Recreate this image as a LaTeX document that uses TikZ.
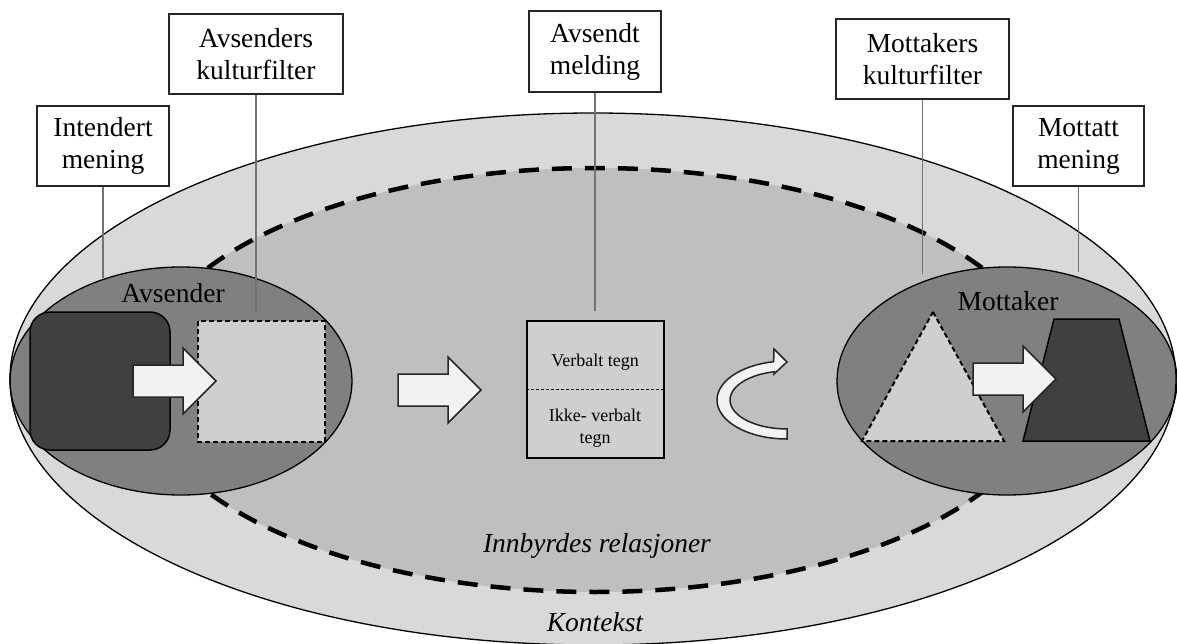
\documentclass[tikz,border=0pt]{standalone}
\usepackage{fontspec}
\setmainfont{Liberation Serif}

\begin{document}
\begin{tikzpicture}[x=1pt,y=-1pt]
	\tikzstyle{lbl} = [rectangle, draw=black!85, line width=1.4pt, fill=white, minimum height=80pt, inner sep=0pt, align=center, font=\fontsize{27.5}{32}\selectfont]
	\tikzstyle{lead} = [draw=black!55, line width=1.2pt]
	\tikzstyle{blk} = [draw=black, line width=1.5pt, fill=black!75]
	\tikzstyle{filt} = [draw=black, line width=2pt, dash pattern=on 5pt off 3pt, fill=black!19]
	\tikzstyle{harrow} = [draw=black!85, line width=1.5pt, fill=black!5, line join=miter]
	\tikzstyle{big} = [inner sep=0pt, font=\fontsize{27.5}{32}\selectfont]
	\tikzstyle{small} = [inner sep=0pt, align=center, font=\fontsize{18}{22}\selectfont]
	
	\useasboundingbox (0,0) rectangle (1177,644);
	
	% kontekst og relasjoner
	\fill [black!15] (593,379) ellipse [x radius=583, y radius=266];
	\draw [fill=black!25, line width=4.5pt, dash pattern=on 20pt off 13pt] (595,380) ellipse [x radius=456, y radius=212];
	
	\draw [fill=black!50, line width=1.3pt] (181,381) ellipse [x radius=171, y radius=114];
	\draw [fill=black!50, line width=1.3pt] (1007,381) ellipse [x radius=170, y radius=114];
	\draw [line width=1.3pt] (593,379) ellipse [x radius=583, y radius=266];
	
	% avsender
	\draw [blk, rounded corners=20pt] (30,312) rectangle (170,450);
	\draw [filt] (198,321) rectangle (325,442);
	\draw [harrow] (133,365) -- ++(50,0) -- ++(0,-17) -- ++(33,33) -- ++(-33,33) -- ++(0,-17) -- ++(-50,0) -- cycle;
	\node [big] (sender) at (173,293) {Avsender};
	
	% melding
	\draw [harrow] (398,374) -- ++(50,0) -- ++(0,-17) -- ++(33,33) -- ++(-33,33) -- ++(0,-17) -- ++(-50,0) -- cycle;
	\node [draw, line width=1.8pt, fill=black!19, minimum width=137pt, minimum height=137pt, inner sep=0pt] (msg) at (595.5,389.5) {};
	\draw [line width=0.8pt, dash pattern=on 3pt off 2pt] (msg.west) -- (msg.east);
	\node [small] (verbal) at (595,362) {Verbalt tegn};
	\node [small] (nonverbal) at (595,428) {Ikke- verbalt\\tegn};
	\draw [harrow] (787,439) arc [start angle=90, end angle=259, x radius=70, y radius=39] -- (774,349) -- (787,362) -- (774,374) -- (774.2,371.7) arc [start angle=257, end angle=90, x radius=57, y radius=29] -- cycle;
	
	% mottaker
	\draw [filt] (933,312) -- (1004,441) -- (862,441) -- cycle;
	\draw [blk] (1054,319) -- (1119,319) -- (1150,441) -- (1023,441) -- cycle;
	\draw [harrow] (973,363) -- ++(50,0) -- ++(0,-17) -- ++(33,33) -- ++(-33,33) -- ++(0,-17) -- ++(-50,0) -- cycle;
	\node [big] (receiver) at (1008,301) {Mottaker};
	
	\node [big, font=\fontsize{27.5}{32}\selectfont\itshape] (relations) at (597,546) {Innbyrdes relasjoner};
	\node [big, font=\fontsize{27.5}{32}\selectfont\itshape] (context) at (595,622) {Kontekst};
	
	% etiketter
	\node [lbl, minimum width=132pt] (intended) at (103,146) {Intendert\\mening};
	\node [lbl, minimum width=174pt] (sfilter) at (256,54) {Avsenders\\kulturfilter};
	\node [lbl, minimum width=132pt, minimum height=81pt] (sent) at (595,51.5) {Avsendt\\melding};
	\node [lbl, minimum width=173pt] (rfilter) at (922.5,59) {Mottakers\\kulturfilter};
	\node [lbl, minimum width=131pt] (received) at (1078.5,146) {Mottatt\\mening};
	
	\coordinate (intended end) at (103,278);
	\coordinate (sfilter end) at (256,312);
	\coordinate (sent end) at (595,311);
	\coordinate (rfilter end) at (922.5,274);
	\coordinate (received end) at (1078.5,272);
	
	\draw [lead] (intended.south) -- (intended end);
	\draw [lead] (sfilter.south) -- (sfilter end);
	\draw [lead] (sent.south) -- (sent end);
	\draw [lead] (rfilter.south) -- (rfilter end);
	\draw [lead] (received.south) -- (received end);
\end{tikzpicture}
\end{document}
